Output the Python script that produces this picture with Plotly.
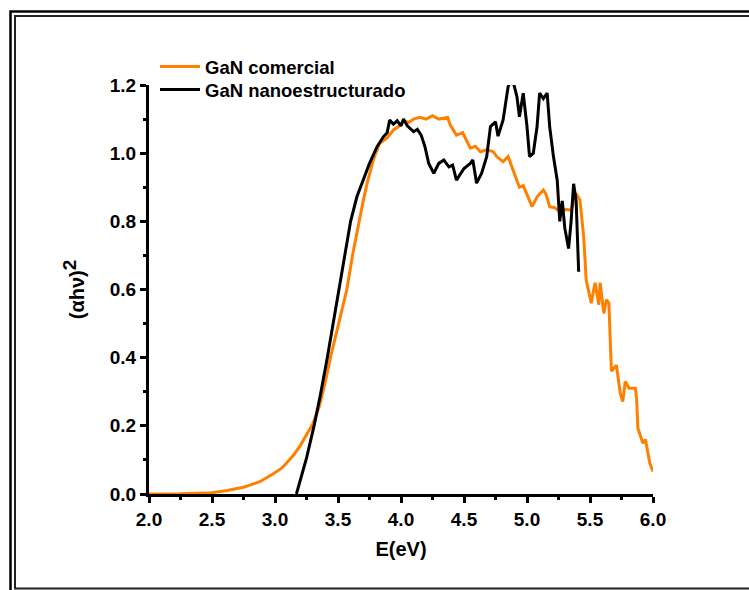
import plotly.graph_objects as go

# (alpha h nu)^2 versus photon energy for two GaN samples
energy_comercial = [2.0, 2.25, 2.5, 2.62, 2.75, 2.88, 2.99, 3.05, 3.09, 3.15, 3.20, 3.25, 3.30,
                    3.35, 3.40, 3.44, 3.50, 3.57, 3.615, 3.66, 3.70, 3.73, 3.78, 3.83, 3.89,
                    3.94, 3.98, 4.02, 4.06, 4.10, 4.15, 4.20, 4.25, 4.30, 4.37, 4.39, 4.44,
                    4.49, 4.55, 4.59, 4.63, 4.68, 4.73, 4.76, 4.81, 4.85, 4.89, 4.94, 4.97,
                    5.04, 5.08, 5.13, 5.15, 5.18, 5.22, 5.26, 5.30, 5.35, 5.39, 5.42, 5.45,
                    5.47, 5.51, 5.54, 5.57, 5.58, 5.61, 5.63, 5.65, 5.67, 5.71, 5.74, 5.76,
                    5.78, 5.81, 5.86, 5.87, 5.88, 5.92, 5.94, 5.975, 6.0]
signal_comercial = [0.0, 0.0005, 0.004, 0.01, 0.02, 0.036, 0.06, 0.075, 0.09, 0.115, 0.142,
                    0.175, 0.205, 0.255, 0.33, 0.40, 0.49, 0.60, 0.70, 0.79, 0.86, 0.91, 0.98,
                    1.029, 1.045, 1.068, 1.078, 1.095, 1.09, 1.10, 1.105, 1.10, 1.11, 1.10,
                    1.105, 1.083, 1.053, 1.06, 1.015, 1.02, 1.004, 1.01, 1.005, 0.99, 0.975,
                    0.99, 0.95, 0.90, 0.905, 0.843, 0.872, 0.892, 0.88, 0.843, 0.84, 0.828,
                    0.835, 0.833, 0.882, 0.863, 0.755, 0.628, 0.56, 0.62, 0.555, 0.62, 0.53,
                    0.57, 0.56, 0.36, 0.378, 0.296, 0.271, 0.33, 0.31, 0.31, 0.28, 0.193,
                    0.149, 0.16, 0.09, 0.066]

energy_nano = [3.17, 3.25, 3.31, 3.36, 3.415, 3.46, 3.51, 3.555, 3.60, 3.65, 3.70, 3.75,
               3.81, 3.86, 3.89, 3.91, 3.94, 3.97, 4.0, 4.02, 4.05, 4.10, 4.13, 4.16, 4.19,
               4.22, 4.26, 4.30, 4.34, 4.38, 4.41, 4.44, 4.50, 4.55, 4.57, 4.60, 4.64, 4.68,
               4.71, 4.75, 4.77, 4.81, 4.85, 4.87, 4.89, 4.92, 4.94, 4.97, 5.00, 5.02, 5.05,
               5.08, 5.10, 5.13, 5.16, 5.18, 5.21, 5.24, 5.26, 5.28, 5.30, 5.33, 5.35, 5.37,
               5.39, 5.41]
signal_nano = [0.0, 0.105, 0.2, 0.29, 0.40, 0.50, 0.60, 0.70, 0.80, 0.872, 0.921, 0.97,
               1.019, 1.048, 1.06, 1.097, 1.085, 1.095, 1.08, 1.10, 1.08, 1.063, 1.07, 1.053,
               1.019, 0.97, 0.941, 0.97, 0.98, 0.96, 0.965, 0.921, 0.955, 0.97, 0.98, 0.912,
               0.941, 0.99, 1.078, 1.092, 1.05, 1.097, 1.195, 1.21, 1.21, 1.166, 1.107, 1.176,
               1.078, 0.99, 1.0, 1.078, 1.176, 1.16, 1.176, 1.078, 0.99, 0.92, 0.80, 0.86,
               0.78, 0.72, 0.80, 0.91, 0.86, 0.652]

series_names = ["GaN comercial", "GaN nanoestructurado"]
series_colors = ["#FF8000", "#000000"]

W, H = 749, 590
ML, MR, MT, MB = 149, 96, 85, 96
FONT = "Liberation Sans, Arial, sans-serif"


def px(xp):
    return (xp - ML) / (W - ML - MR)


def py(yp):
    return (H - MB - yp) / (H - MT - MB)


fig = go.Figure()
legend_ids = ["legend", "legend2"]
for e, s, name, color, lg in zip([energy_comercial, energy_nano],
                                 [signal_comercial, signal_nano],
                                 series_names, series_colors, legend_ids):
    fig.add_trace(go.Scatter(x=e, y=s, mode="lines", name=name, legend=lg,
                             line=dict(color=color, width=3)))

tickfont = dict(family=FONT, size=19, color="black", weight="bold")
titlefont = dict(family=FONT, size=20, color="black", weight="bold")

fig.update_xaxes(range=[2.0, 6.0], dtick=0.5, tick0=2.0, tickformat=".1f",
                 showline=True, linecolor="black", linewidth=3, mirror=False,
                 ticks="outside", ticklen=6, tickwidth=3, tickcolor="black",
                 minor=dict(ticks="outside", ticklen=3, tickwidth=3, dtick=0.25,
                            tickcolor="black"),
                 showgrid=False, zeroline=False, tickfont=tickfont,
                 title=dict(text="E(eV)", font=titlefont, standoff=14))
fig.update_yaxes(range=[0.0, 1.2], dtick=0.2, tick0=0.0, tickformat=".1f",
                 showline=True, linecolor="black", linewidth=3, mirror=False,
                 ticks="outside", ticklen=6, tickwidth=3, tickcolor="black",
                 minor=dict(ticks="outside", ticklen=3, tickwidth=3, dtick=0.1,
                            tickcolor="black"),
                 showgrid=False, zeroline=False, tickfont=tickfont,
                 title=dict(text="(αhν)<sup><span style='font-size:19px'>2</span></sup>",
                            font=titlefont, standoff=20))

# double frame around the figure
frame = []
frame.append(dict(type="rect", xref="paper", yref="paper",
                  x0=px(10.5), x1=px(W + 20), y0=py(11.5), y1=py(H + 20),
                  line=dict(color="black", width=2.5), fillcolor="rgba(0,0,0,0)"))
frame.append(dict(type="rect", xref="paper", yref="paper",
                  x0=px(15), x1=px(W + 10), y0=py(16), y1=py(588.5),
                  line=dict(color="#222222", width=2), fillcolor="rgba(0,0,0,0)"))

legend_style = dict(xanchor="left", yanchor="top", bgcolor="rgba(0,0,0,0)",
                    borderwidth=0, itemwidth=40,
                    font=dict(family=FONT, size=18.5, color="black", weight="bold"))

fig.update_layout(
    width=W, height=H,
    margin=dict(l=ML, r=MR, t=MT, b=MB, pad=0),
    paper_bgcolor="white", plot_bgcolor="white",
    font=dict(family=FONT, size=18, color="black"),
    showlegend=True,
    legend=dict(x=px(155), y=py(48), **legend_style),
    legend2=dict(x=px(155), y=py(71), **legend_style),
    shapes=frame,
)

fig.write_html("out.html")
